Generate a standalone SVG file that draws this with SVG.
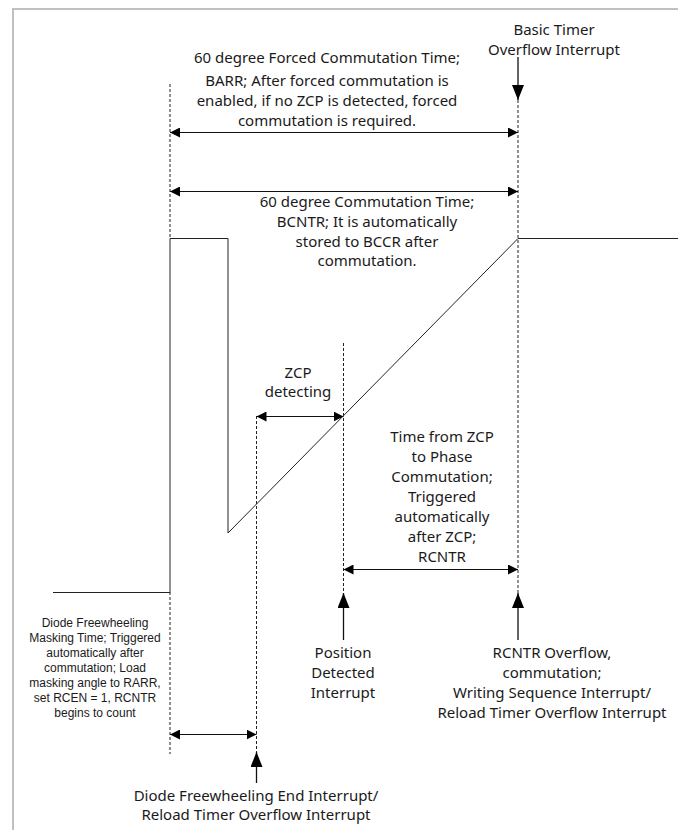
<svg xmlns="http://www.w3.org/2000/svg" width="678" height="830" viewBox="0 0 678 830">
<defs>
<style>
.t{font-family:"Noto Sans","Liberation Sans",sans-serif;font-size:15px;fill:#1a1a1a;text-anchor:middle}
.s{font-family:"Liberation Sans","Noto Sans",sans-serif;font-size:12px;fill:#1a1a1a;text-anchor:middle}
.w{fill:none;stroke:#222;stroke-width:1}
.d{fill:none;stroke:#222;stroke-width:1;stroke-dasharray:3,2}
.a{fill:none;stroke:#111;stroke-width:1.2}
.v{fill:none;stroke:#111;stroke-width:1.3}
</style>
<marker id="ah" markerUnits="userSpaceOnUse" markerWidth="11" markerHeight="10" refX="10" refY="5" orient="auto-start-reverse">
<path d="M0,0 L10,5 L0,10 z" fill="#000"/>
</marker>
<marker id="av" markerUnits="userSpaceOnUse" markerWidth="16" markerHeight="12" refX="15" refY="6" orient="auto">
<path d="M0,0 L15,6 L0,12 z" fill="#000"/>
</marker>
</defs>
<rect width="678" height="830" fill="#fff"/>
<rect x="13" y="9" width="700" height="850" fill="none" stroke="#c0c0c0" stroke-width="2"/>

<g id="waveform">
<polyline class="w" points="53,592.5 170,592.5 170,238.5 228,238.5 228,533 518,238.5 678,238.5"/>
</g>

<g id="guides">
<line class="d" x1="170" y1="84" x2="170" y2="238"/>
<line class="d" x1="170" y1="592" x2="170" y2="754"/>
<line class="d" x1="518" y1="100" x2="518" y2="593"/>
<line class="d" x1="256.5" y1="416" x2="256.5" y2="752"/>
<line class="d" x1="343.5" y1="343" x2="343.5" y2="593"/>
</g>

<g id="connectors">
<line class="a" x1="170" y1="132.5" x2="518" y2="132.5" marker-start="url(#ah)" marker-end="url(#ah)"/>
<line class="a" x1="170" y1="191.5" x2="518" y2="191.5" marker-start="url(#ah)" marker-end="url(#ah)"/>
<line class="a" x1="256.5" y1="416.5" x2="343.5" y2="416.5" marker-start="url(#ah)" marker-end="url(#ah)"/>
<line class="a" x1="343.5" y1="569.5" x2="518" y2="569.5" marker-start="url(#ah)" marker-end="url(#ah)"/>
<line class="a" x1="170" y1="734.5" x2="256.5" y2="734.5" marker-start="url(#ah)" marker-end="url(#ah)"/>
<line class="v" x1="518" y1="57" x2="518" y2="100" marker-end="url(#av)"/>
<line class="v" x1="343.5" y1="640" x2="343.5" y2="593" marker-end="url(#av)"/>
<line class="v" x1="518" y1="640" x2="518" y2="593" marker-end="url(#av)"/>
<line class="v" x1="256.5" y1="783" x2="256.5" y2="752" marker-end="url(#av)"/>
</g>

<g id="basic-timer">
<text class="t" x="554" y="35">Basic Timer</text>
<text class="t" x="554" y="55">Overflow Interrupt</text>
</g>

<g id="forced-time">
<text class="t" x="327" y="63">60 degree Forced Commutation Time;</text>
<text class="t" x="327" y="86">BARR; After forced commutation is</text>
<text class="t" x="327" y="106">enabled, if no ZCP is detected, forced</text>
<text class="t" x="327" y="126">commutation is required.</text>
</g>

<g id="commutation-time">
<text class="t" x="367" y="207">60 degree Commutation Time;</text>
<text class="t" x="367" y="227">BCNTR; It is automatically</text>
<text class="t" x="367" y="247">stored to BCCR after</text>
<text class="t" x="367" y="266">commutation.</text>
</g>

<g id="zcp-detecting">
<text class="t" x="298" y="378">ZCP</text>
<text class="t" x="298" y="397">detecting</text>
</g>

<g id="zcp-to-commutation">
<text class="t" x="442" y="442">Time from ZCP</text>
<text class="t" x="442" y="462">to Phase</text>
<text class="t" x="442" y="482">Commutation;</text>
<text class="t" x="442" y="502">Triggered</text>
<text class="t" x="442" y="522">automatically</text>
<text class="t" x="442" y="542">after ZCP;</text>
<text class="t" x="442" y="562">RCNTR</text>
</g>

<g id="masking-time">
<text class="s" x="95" y="627">Diode Freewheeling</text>
<text class="s" x="95" y="642">Masking Time; Triggered</text>
<text class="s" x="95" y="657">automatically after</text>
<text class="s" x="95" y="672">commutation; Load</text>
<text class="s" x="95" y="687">masking angle to RARR,</text>
<text class="s" x="95" y="702">set RCEN = 1, RCNTR</text>
<text class="s" x="95" y="717">begins to count</text>
</g>

<g id="position-detected">
<text class="t" x="343" y="658">Position</text>
<text class="t" x="343" y="678">Detected</text>
<text class="t" x="343" y="698">Interrupt</text>
</g>

<g id="rcntr-overflow">
<text class="t" x="552" y="658">RCNTR Overflow,</text>
<text class="t" x="552" y="678">commutation;</text>
<text class="t" x="552" y="698">Writing Sequence Interrupt/</text>
<text class="t" x="552" y="718">Reload Timer Overflow Interrupt</text>
</g>

<g id="diode-end">
<text class="t" x="256" y="801">Diode Freewheeling End Interrupt/</text>
<text class="t" x="256" y="820">Reload Timer Overflow Interrupt</text>
</g>
</svg>
